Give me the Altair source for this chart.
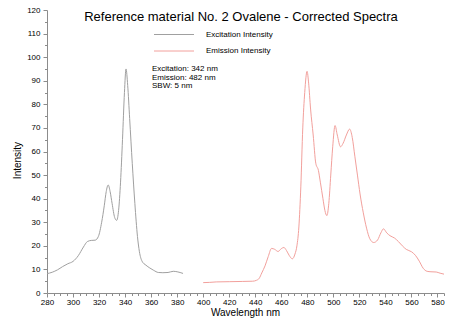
import altair as alt
import pandas as pd

# Excitation spectrum (wavelength nm, intensity)
ex_wl = [280, 284, 288, 292, 296, 300, 304, 308, 311, 314, 317, 319.5, 322, 324, 325.5, 327,
         328.5, 330, 332, 333.5, 335, 336.5, 338, 339.5, 340.7, 342, 343.5, 345.5, 347.5, 349.5,
         351, 353, 356, 359, 362, 365.5, 369, 373, 377, 380, 384.5]
ex_int = [8.2, 8.8, 9.8, 11.2, 12.4, 13.4, 15.8, 19.5, 21.8, 22.3, 22.4, 24, 30, 37, 43, 45.8,
          43, 38, 32, 30.8, 35, 47, 65, 85, 95, 88, 74, 55, 38, 24,
          17.5, 13.5, 11.8, 10.6, 9.6, 8.7, 8.6, 8.7, 9.2, 9.0, 8.3]

# Emission spectrum (wavelength nm, intensity)
em_wl = [400, 405, 410, 420, 430, 438, 441, 443, 445, 447.5, 450, 452.5, 455, 457.5, 460, 462,
         464, 466, 468.5, 470.5, 472, 473.5, 475, 476.5, 478, 479.8, 481, 482.5, 484.5, 486.5,
         488.5, 490, 492, 493.5, 495, 496.5, 498, 499.5, 501.3, 503, 505.5, 507.5, 510, 512.5,
         514.5, 516.5, 518.5, 520.5, 523, 525.5, 528, 531, 534, 536.5, 538.5, 541, 543.5, 547,
         550, 553, 556, 560, 563, 566, 569, 572, 575, 579, 582, 585]
em_int = [4.4, 4.5, 4.7, 4.8, 4.9, 5.0, 5.4, 6.2, 8.5, 11.5, 15.5, 18.9, 18.5, 17.6, 18.8, 19.3,
          18, 16, 14.5, 16.5, 20, 28, 45, 70, 85, 94, 89, 78, 67, 55,
          52, 47, 40, 35, 32.8, 38, 50, 62, 71, 67, 62, 63.5, 67, 69.5,
          66, 58, 50, 42, 34, 27.5, 23, 21.4, 22.5, 25.5, 27.2, 25.5, 24.3, 23.3,
          21.8, 20, 18.5, 17.5, 16, 13.5, 10.5, 9.2, 9.0, 8.9, 8.4, 8.0]

series_names = ["Excitation Intensity", "Emission Intensity"]
series_colors = ["#a0a0a0", "#f2a09c"]
title_text = "Reference material No. 2 Ovalene - Corrected Spectra"
note_lines = ["Excitation: 342 nm", "Emission: 482 nm", "SBW: 5 nm"]

x_ticks = list(range(280, 586, 5))
y_ticks = list(range(0, 121, 5))

df = pd.concat([
    pd.DataFrame({"wl": ex_wl, "val": ex_int, "series": series_names[0]}),
    pd.DataFrame({"wl": em_wl, "val": em_int, "series": series_names[1]}),
])

FONT = "Liberation Sans"

x_enc = alt.X("wl:Q", scale=alt.Scale(domain=[280, 585], nice=False, zero=False),
              axis=alt.Axis(values=x_ticks, title="Wavelength nm", grid=False,
                            labelExpr="datum.value % 20 === 0 ? datum.label : ''",
                            labelOverlap=False, labelBound=False, labelFlush=False,
                            tickSize={"condition": {"test": "datum.value % 20 === 0", "value": 4}, "value": 2.5},
                            labelPadding=1, titleX=198, titleY=19, titleBaseline="middle",
                            titleAlign="center"))
y_enc = alt.Y("val:Q", scale=alt.Scale(domain=[0, 120], nice=False),
              axis=alt.Axis(values=y_ticks, title="Intensity", grid=False,
                            labelExpr="datum.value % 10 === 0 ? datum.label : ''",
                            labelOverlap=False, labelBound=False, labelFlush=False,
                            tickSize={"condition": {"test": "datum.value % 10 === 0", "value": 4}, "value": 2.5},
                            labelPadding=3, titleX=-30, titleY=150, titleBaseline="middle",
                            titleAlign="center", titleAngle=270))

lines = alt.Chart(df).mark_line(strokeWidth=1, interpolate="monotone").encode(
    x=x_enc, y=y_enc,
    color=alt.Color("series:N", scale=alt.Scale(domain=series_names, range=series_colors), legend=None),
    detail="series:N",
)

title = alt.Chart(pd.DataFrame({"t": [title_text]})).mark_text(
    font=FONT, fontSize=13, color="black", baseline="middle", align="center"
).encode(text="t:N", x=alt.value(194), y=alt.value(7))

leg_df = pd.DataFrame({"series": series_names})
leg_rule1 = alt.Chart(leg_df.iloc[[0]]).mark_rule(strokeWidth=1, color=series_colors[0]).encode(
    x=alt.value(107), x2=alt.value(147), y=alt.value(24.5))
leg_rule2 = alt.Chart(leg_df.iloc[[1]]).mark_rule(strokeWidth=1, color=series_colors[1]).encode(
    x=alt.value(107), x2=alt.value(147), y=alt.value(41))
leg_text1 = alt.Chart(leg_df.iloc[[0]]).mark_text(font=FONT, fontSize=8, align="left", baseline="middle", color="black").encode(
    text="series:N", x=alt.value(159), y=alt.value(24.5))
leg_text2 = alt.Chart(leg_df.iloc[[1]]).mark_text(font=FONT, fontSize=8, align="left", baseline="middle", color="black").encode(
    text="series:N", x=alt.value(159), y=alt.value(41))

note = alt.Chart(pd.DataFrame({"t": ["\n".join(note_lines)]})).mark_text(
    font=FONT, fontSize=8, align="left", baseline="top", lineBreak="\n", lineHeight=8.5, color="black"
).encode(text="t:N", x=alt.value(105), y=alt.value(55))

chart = alt.layer(lines, title, leg_rule1, leg_rule2, leg_text1, leg_text2, note).properties(
    width=397, height=283,
    autosize=alt.AutoSizeParams(type="none"),
    padding={"left": 47, "top": 10, "right": 16, "bottom": 27},
    background="white",
).configure_view(stroke=None).configure_axis(
    domainColor="#8c8c8c", tickColor="#8c8c8c", labelColor="black", titleColor="black",
    labelFont=FONT, titleFont=FONT, labelFontSize=8, titleFontSize=10, titleFontWeight="normal",
    domainWidth=1, tickWidth=1,
)

chart.save("out.html", embed_options={"renderer": "svg", "actions": False})
